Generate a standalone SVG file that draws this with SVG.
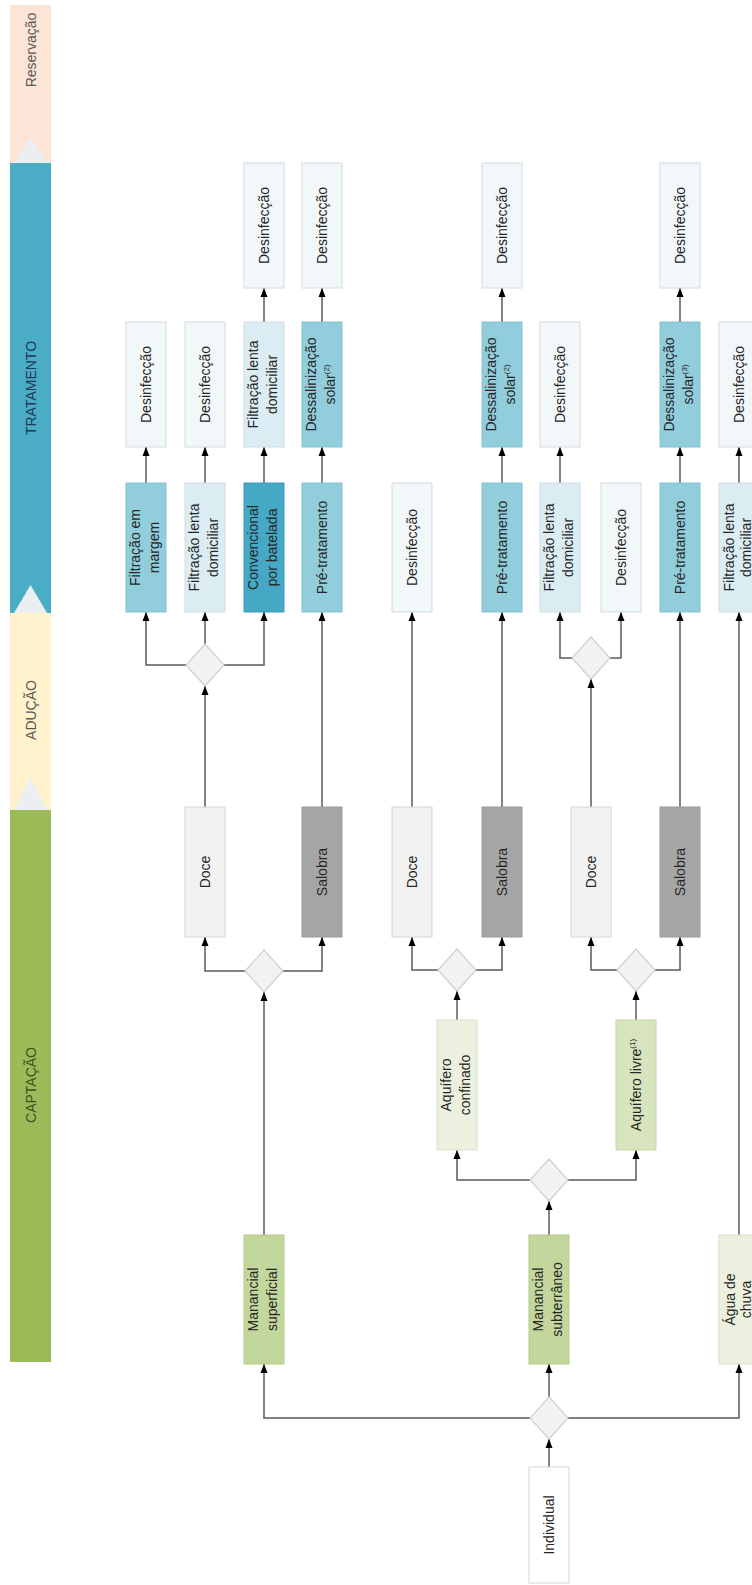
<svg xmlns="http://www.w3.org/2000/svg" width="752" height="1585" viewBox="0 0 752 1585">
<defs>
<style>
text{font-family:"Liberation Sans","DejaVu Sans",sans-serif;font-size:14px;fill:#262626;text-anchor:middle}
.ph{font-size:14px}
.des{fill:#f2f7fa;stroke:#d3dbe0}
.flt{fill:#dcecf3;stroke:#cfdde4}
.mid{fill:#92cddc;stroke:#86c3d3}
.dark{fill:#45a8c5;stroke:#3d9cb8}
.doce{fill:#f2f2f2;stroke:#d6d6d6}
.sal{fill:#a6a6a6;stroke:#9a9a9a}
.man{fill:#c3d69b;stroke:#b5ca8c}
.aqc{fill:#ebf1de;stroke:#d9e2c8}
.aql{fill:#d7e4bd;stroke:#c9d8ac}
.ind{fill:#ffffff;stroke:#d6d6d6}
.dia{fill:#f2f2f2;stroke:#d0d0d0;stroke-width:1.2}
.c{fill:none;stroke:#5a5a5a;stroke-width:1.5;marker-end:url(#ah)}
</style>
<marker id="ah" markerUnits="userSpaceOnUse" markerWidth="9" markerHeight="8" refX="9" refY="4" orient="auto">
<path d="M0,0.5 L9,4 L0,7.5 z" fill="#000"/>
</marker>
</defs>
<rect width="752" height="1585" fill="#ffffff"/>

<g id="phases">
<g id="ph_reservacao">
<rect x="10" y="5" width="41" height="158" fill="#fce4d6"/>
<polygon points="30.5,137 14,163 47,163" fill="#eceff1"/>
<text class="ph" transform="translate(30.5,50) rotate(-90)" y="5" style="fill:#595959">Reservação</text>
</g>
<g id="ph_tratamento">
<rect x="10" y="163" width="41" height="450" fill="#4bacc6"/>
<polygon points="30.5,585 14,613 47,613" fill="#eceff1"/>
<text class="ph" transform="translate(30.5,388) rotate(-90)" y="5" style="fill:#1f3a55">TRATAMENTO</text>
</g>
<g id="ph_aducao">
<rect x="10" y="613" width="41" height="197" fill="#fff2cc"/>
<polygon points="30.5,777 14,810 47,810" fill="#eceff1"/>
<text class="ph" transform="translate(30.5,710) rotate(-90)" y="5" style="fill:#595959">ADUÇÃO</text>
</g>
<g id="ph_captacao">
<rect x="10" y="810" width="41" height="552" fill="#9bbb59"/>
<text class="ph" transform="translate(30.5,1085) rotate(-90)" y="5" style="fill:#3b5320">CAPTAÇÃO</text>
</g>
</g>

<g id="connectors">
<path class="c" d="M549,1467 V1439"/>
<path class="c" d="M549,1397 V1364"/>
<path class="c" d="M530,1418 H264 V1364"/>
<path class="c" d="M568,1418 H739 V1364"/>
<path class="c" d="M264,1235 V992"/>
<path class="c" d="M245,971 H205 V937"/>
<path class="c" d="M283,971 H322 V937"/>
<path class="c" d="M205,807 V686"/>
<path class="c" d="M186,665 H146 V612"/>
<path class="c" d="M205,644 V612"/>
<path class="c" d="M224,665 H264 V612"/>
<path class="c" d="M322,807 V612"/>
<path class="c" d="M146,483 V447"/>
<path class="c" d="M205,483 V447"/>
<path class="c" d="M264,483 V447"/>
<path class="c" d="M322,483 V447"/>
<path class="c" d="M264,322 V288"/>
<path class="c" d="M322,322 V288"/>
<path class="c" d="M549,1235 V1201"/>
<path class="c" d="M530,1180 H457 V1150"/>
<path class="c" d="M568,1180 H636 V1150"/>
<path class="c" d="M457,1020 V991"/>
<path class="c" d="M438,970 H412 V937"/>
<path class="c" d="M476,970 H502 V937"/>
<path class="c" d="M636,1020 V991"/>
<path class="c" d="M617,970 H591 V937"/>
<path class="c" d="M655,970 H680 V937"/>
<path class="c" d="M412,807 V612"/>
<path class="c" d="M502,807 V612"/>
<path class="c" d="M591,807 V679"/>
<path class="c" d="M572,658 H560 V612"/>
<path class="c" d="M610,658 H621 V612"/>
<path class="c" d="M680,807 V612"/>
<path class="c" d="M739,1235 V612"/>
<path class="c" d="M502,483 V447"/>
<path class="c" d="M502,322 V288"/>
<path class="c" d="M560,483 V447"/>
<path class="c" d="M680,483 V447"/>
<path class="c" d="M680,322 V288"/>
<path class="c" d="M739,483 V447"/>
</g>

<g id="diamonds">
<polygon id="d1" class="dia" points="205,644 224,665 205,686 186,665"/>
<polygon id="d2" class="dia" points="591,637 610,658 591,679 572,658"/>
<polygon id="d3" class="dia" points="264,950 283,971 264,992 245,971"/>
<polygon id="d4" class="dia" points="457,949 476,970 457,991 438,970"/>
<polygon id="d5" class="dia" points="636,949 655,970 636,991 617,970"/>
<polygon id="d6" class="dia" points="549,1159 568,1180 549,1201 530,1180"/>
<polygon id="d7" class="dia" points="549,1397 568,1418 549,1439 530,1418"/>
</g>

<g id="n_des_C3"><rect class="des" x="244" y="163" width="40" height="125"/><text transform="translate(264,225.5) rotate(-90)" y="5">Desinfecção</text></g>
<g id="n_des_D3"><rect class="des" x="302" y="163" width="40" height="125"/><text transform="translate(322,225.5) rotate(-90)" y="5">Desinfecção</text></g>
<g id="n_des_F3"><rect class="des" x="482" y="163" width="40" height="125"/><text transform="translate(502,225.5) rotate(-90)" y="5">Desinfecção</text></g>
<g id="n_des_I3"><rect class="des" x="660" y="163" width="40" height="125"/><text transform="translate(680,225.5) rotate(-90)" y="5">Desinfecção</text></g>

<g id="n_des_A2"><rect class="des" x="126" y="322" width="40" height="125"/><text transform="translate(146,384.5) rotate(-90)" y="5">Desinfecção</text></g>
<g id="n_des_B2"><rect class="des" x="185" y="322" width="40" height="125"/><text transform="translate(205,384.5) rotate(-90)" y="5">Desinfecção</text></g>
<g id="n_flt_C2"><rect class="flt" x="244" y="322" width="40" height="125"/><text transform="translate(264,384.5) rotate(-90)"><tspan x="0" y="-6">Filtração lenta</tspan><tspan x="0" y="13">domiciliar</tspan></text></g>
<g id="n_des_D2"><rect class="mid" x="302" y="322" width="40" height="125"/><text transform="translate(322,384.5) rotate(-90)"><tspan x="0" y="-6">Dessalinização</tspan><tspan x="0" y="13">solar</tspan><tspan font-size="8" dy="-6">(2)</tspan></text></g>
<g id="n_des_F2"><rect class="mid" x="482" y="322" width="40" height="125"/><text transform="translate(502,384.5) rotate(-90)"><tspan x="0" y="-6">Dessalinização</tspan><tspan x="0" y="13">solar</tspan><tspan font-size="8" dy="-6">(2)</tspan></text></g>
<g id="n_des_G2"><rect class="des" x="540" y="322" width="40" height="125"/><text transform="translate(560,384.5) rotate(-90)" y="5">Desinfecção</text></g>
<g id="n_des_I2"><rect class="mid" x="660" y="322" width="40" height="125"/><text transform="translate(680,384.5) rotate(-90)"><tspan x="0" y="-6">Dessalinização</tspan><tspan x="0" y="13">solar</tspan><tspan font-size="8" dy="-6">(3)</tspan></text></g>
<g id="n_des_J2"><rect class="des" x="719" y="322" width="40" height="125"/><text transform="translate(739,384.5) rotate(-90)" y="5">Desinfecção</text></g>

<g id="n_fm_A1"><rect class="mid" x="126" y="483" width="40" height="129"/><text transform="translate(146,547.5) rotate(-90)"><tspan x="0" y="-6">Filtração em</tspan><tspan x="0" y="13">margem</tspan></text></g>
<g id="n_flt_B1"><rect class="flt" x="185" y="483" width="40" height="129"/><text transform="translate(205,547.5) rotate(-90)"><tspan x="0" y="-6">Filtração lenta</tspan><tspan x="0" y="13">domiciliar</tspan></text></g>
<g id="n_conv_C1"><rect class="dark" x="244" y="483" width="40" height="129"/><text transform="translate(264,547.5) rotate(-90)"><tspan x="0" y="-6">Convencional</tspan><tspan x="0" y="13">por batelada</tspan></text></g>
<g id="n_pre_D1"><rect class="mid" x="302" y="483" width="40" height="129"/><text transform="translate(322,547.5) rotate(-90)" y="5">Pré-tratamento</text></g>
<g id="n_des_E1"><rect class="des" x="392" y="483" width="40" height="129"/><text transform="translate(412,547.5) rotate(-90)" y="5">Desinfecção</text></g>
<g id="n_pre_F1"><rect class="mid" x="482" y="483" width="40" height="129"/><text transform="translate(502,547.5) rotate(-90)" y="5">Pré-tratamento</text></g>
<g id="n_flt_G1"><rect class="flt" x="540" y="483" width="40" height="129"/><text transform="translate(560,547.5) rotate(-90)"><tspan x="0" y="-6">Filtração lenta</tspan><tspan x="0" y="13">domiciliar</tspan></text></g>
<g id="n_des_H1"><rect class="des" x="601" y="483" width="40" height="129"/><text transform="translate(621,547.5) rotate(-90)" y="5">Desinfecção</text></g>
<g id="n_pre_I1"><rect class="mid" x="660" y="483" width="40" height="129"/><text transform="translate(680,547.5) rotate(-90)" y="5">Pré-tratamento</text></g>
<g id="n_flt_J1"><rect class="flt" x="719" y="483" width="40" height="129"/><text transform="translate(739,547.5) rotate(-90)"><tspan x="0" y="-5">Filtração lenta</tspan><tspan x="0" y="11.5">domiciliar</tspan></text></g>

<g id="n_doce_B"><rect class="doce" x="185" y="807" width="40" height="130"/><text transform="translate(205,872) rotate(-90)" y="5">Doce</text></g>
<g id="n_sal_D"><rect class="sal" x="302" y="807" width="40" height="130"/><text transform="translate(322,872) rotate(-90)" y="5">Salobra</text></g>
<g id="n_doce_E"><rect class="doce" x="392" y="807" width="40" height="130"/><text transform="translate(412,872) rotate(-90)" y="5">Doce</text></g>
<g id="n_sal_F"><rect class="sal" x="482" y="807" width="40" height="130"/><text transform="translate(502,872) rotate(-90)" y="5">Salobra</text></g>
<g id="n_doce_L"><rect class="doce" x="571" y="807" width="40" height="130"/><text transform="translate(591,872) rotate(-90)" y="5">Doce</text></g>
<g id="n_sal_I"><rect class="sal" x="660" y="807" width="40" height="130"/><text transform="translate(680,872) rotate(-90)" y="5">Salobra</text></g>

<g id="n_aq_conf"><rect class="aqc" x="437" y="1020" width="40" height="130"/><text transform="translate(457,1085) rotate(-90)"><tspan x="0" y="-6">Aquífero</tspan><tspan x="0" y="13">confinado</tspan></text></g>
<g id="n_aq_livre"><rect class="aql" x="616" y="1020" width="40" height="130"/><text transform="translate(636,1085) rotate(-90)" y="5">Aquífero livre<tspan font-size="8" dy="-6">(1)</tspan></text></g>

<g id="n_man_sup"><rect class="man" x="244" y="1235" width="40" height="129"/><text transform="translate(264,1299.5) rotate(-90)"><tspan x="0" y="-6">Manancial</tspan><tspan x="0" y="13">superficial</tspan></text></g>
<g id="n_man_sub"><rect class="man" x="529" y="1235" width="40" height="129"/><text transform="translate(549,1299.5) rotate(-90)"><tspan x="0" y="-6">Manancial</tspan><tspan x="0" y="13">subterrâneo</tspan></text></g>
<g id="n_chuva"><rect class="aqc" x="719" y="1235" width="40" height="129"/><text transform="translate(739,1299.5) rotate(-90)"><tspan x="0" y="-4">Água de</tspan><tspan x="0" y="11.5">chuva</tspan></text></g>

<g id="n_individual"><rect class="ind" x="529" y="1467" width="40" height="116"/><text transform="translate(549,1525) rotate(-90)" y="5">Individual</text></g>
</svg>
